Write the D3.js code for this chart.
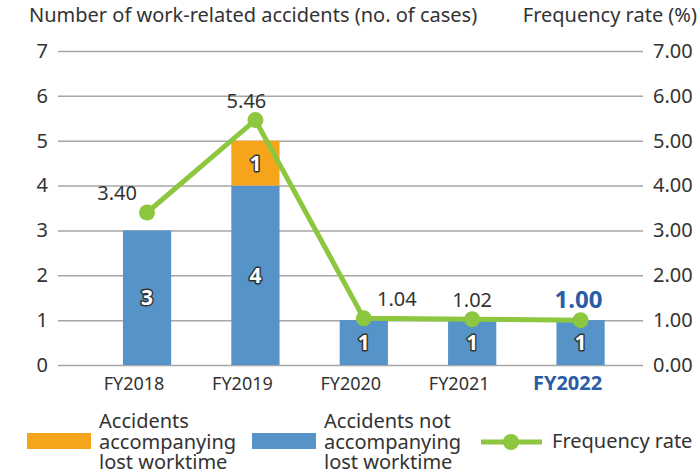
<!DOCTYPE html>
<html>
<head>
<meta charset="utf-8">
<script src="https://cdn.jsdelivr.net/npm/d3@7"></script>
<style>
  body{margin:0;background:#fff;}
  text{font-family:"Noto Sans",sans-serif;fill:#333;}
</style>
</head>
<body>
<script>
var years=["FY2018","FY2019","FY2020","FY2021","FY2022"]
var notLost=[3,4,1,1,1]
var lost=[0,1,0,0,0]
var freqRate=[3.40,5.46,1.04,1.02,1.00]
var leftTicks=[0,1,2,3,4,5,6,7]
var rightTicks=[0,1,2,3,4,5,6,7]

// little nudges for the rate labels, so they do not sit on the line
var rateDx=[-30,-9,33,0,-2]

var blue="#5593c8", orange="#f7a41d", green="#8dc63f", navy="#2b5ca6"

var svg=d3.select("body").append("svg")
  .attr("width",700)
  .attr("height",474)

var x=d3.scaleBand()
  .domain(years)
  .range([85,642.6])
  .paddingInner(0.555)
  .paddingOuter(0.35)

var y=d3.scaleLinear().domain([0,7]).range([365,51])
var y2=d3.scaleLinear().domain([0,7]).range([365,51])

var gridLeft=58, gridRight=643

svg.append("text").attr("x",29).attr("y",22).style("font-size","20px")
  .text("Number of work-related accidents (no. of cases)")
svg.append("text").attr("x",697).attr("y",22).attr("text-anchor","end").style("font-size","20px")
  .text("Frequency rate (%)")

var yAxis=svg.append("g")
  .attr("transform","translate("+gridLeft+",0)")
  .call(d3.axisLeft(y).tickValues(leftTicks).tickSize(-(gridRight-gridLeft)).tickPadding(10).tickFormat(d3.format("d")))
yAxis.select(".domain").remove()
yAxis.selectAll("line").attr("stroke","#a6a6a6").attr("stroke-width",1.5)
yAxis.selectAll("text").style("font-size","20px").attr("fill","#333").attr("font-family",null)

var y2Axis=svg.append("g")
  .attr("transform","translate("+gridRight+",0)")
  .call(d3.axisRight(y2).tickValues(rightTicks).tickSize(0).tickPadding(10).tickFormat(d3.format(".2f")))
y2Axis.select(".domain").remove()
y2Axis.selectAll("text").style("font-size","20px").attr("fill","#333").attr("font-family",null)

// bars
svg.append("g").selectAll("rect").data(years).enter().append("rect")
  .attr("x",function(d){return x(d)})
  .attr("y",function(d,i){return y(notLost[i])})
  .attr("width",x.bandwidth())
  .attr("height",function(d,i){return y(0)-y(notLost[i])})
  .style("fill",blue)

svg.append("g").selectAll("rect").data(years).enter().append("rect")
  .attr("x",function(d){return x(d)})
  .attr("y",function(d,i){return y(notLost[i]+lost[i])})
  .attr("width",x.bandwidth())
  .attr("height",function(d,i){return y(notLost[i])-y(notLost[i]+lost[i])})
  .style("fill",orange)

var barText=function(sel){
  sel.attr("text-anchor","middle")
    .attr("dy","0.36em")
    .style("font-size","21px")
    .style("font-weight","bold")
    .style("fill","#fff")
    .style("stroke","#333")
    .style("stroke-width","3px")
    .style("paint-order","stroke")
    .style("stroke-linejoin","round")
}

svg.append("g").selectAll("text").data(years).enter().append("text")
  .attr("x",function(d){return x(d)+x.bandwidth()/2})
  .attr("y",function(d,i){return (y(0)+y(notLost[i]))/2})
  .text(function(d,i){return notLost[i]})
  .call(barText)

svg.append("g").selectAll("text").data(years.filter(function(d,i){return lost[i]>0})).enter().append("text")
  .attr("x",function(d){return x(d)+x.bandwidth()/2})
  .attr("y",function(d){var i=years.indexOf(d);return (y(notLost[i])+y(notLost[i]+lost[i]))/2})
  .text(function(d){return lost[years.indexOf(d)]})
  .call(barText)

// x labels
svg.append("g").selectAll("text").data(years).enter().append("text")
  .attr("x",function(d){return x(d)+x.bandwidth()/2-13})
  .attr("y",390)
  .attr("text-anchor","middle")
  .style("font-size",function(d,i){return i==years.length-1?"20px":"18px"})
  .style("font-weight",function(d,i){return i==years.length-1?"bold":"normal"})
  .style("fill",function(d,i){return i==years.length-1?navy:"#333"})
  .text(function(d){return d})

// frequency line
var line=d3.line()
  .x(function(d,i){return x(years[i])+x.bandwidth()/2})
  .y(function(d){return y2(d)})

svg.append("path").datum(freqRate)
  .attr("d",line)
  .attr("fill","none")
  .attr("stroke",green)
  .attr("stroke-width",5)
  .attr("stroke-linejoin","round")

svg.append("g").selectAll("circle").data(freqRate).enter().append("circle")
  .attr("cx",function(d,i){return x(years[i])+x.bandwidth()/2})
  .attr("cy",function(d){return y2(d)})
  .attr("r",8)
  .style("fill",green)

svg.append("g").selectAll("text").data(freqRate).enter().append("text")
  .attr("x",function(d,i){return x(years[i])+x.bandwidth()/2+rateDx[i]})
  .attr("y",function(d){return y2(d)-12})
  .attr("text-anchor","middle")
  .style("font-size",function(d,i){return i==freqRate.length-1?"24px":"20px"})
  .style("font-weight",function(d,i){return i==freqRate.length-1?"bold":"normal"})
  .style("fill",function(d,i){return i==freqRate.length-1?navy:"#333"})
  .text(function(d){return d3.format(".2f")(d)})

// legend
var legendItems=[
  {label:["Accidents","accompanying","lost worktime"],color:orange,type:"rect",x:27},
  {label:["Accidents not","accompanying","lost worktime"],color:blue,type:"rect",x:252},
  {label:["Frequency rate"],color:green,type:"line",x:481}
]
var legend=svg.append("g")
legendItems.forEach(function(item){
  var g=legend.append("g")
  if(item.type=="rect"){
    g.append("rect").attr("x",item.x).attr("y",433).attr("width",64).attr("height",16).style("fill",item.color)
  } else {
    g.append("line").attr("x1",item.x).attr("x2",item.x+61).attr("y1",442).attr("y2",442)
      .attr("stroke",item.color).attr("stroke-width",5)
    g.append("circle").attr("cx",item.x+30).attr("cy",442).attr("r",8).style("fill",item.color)
  }
  var tx=item.type=="rect"?item.x+72:item.x+71
  var startY=448-(item.label.length==3?20:0)
  var t=g.append("text").attr("x",tx).style("font-size","20px")
  item.label.forEach(function(l,i){
    t.append("tspan").attr("x",tx).attr("y",startY+i*20.5).text(l)
  })
})
</script>
</body>
</html>
